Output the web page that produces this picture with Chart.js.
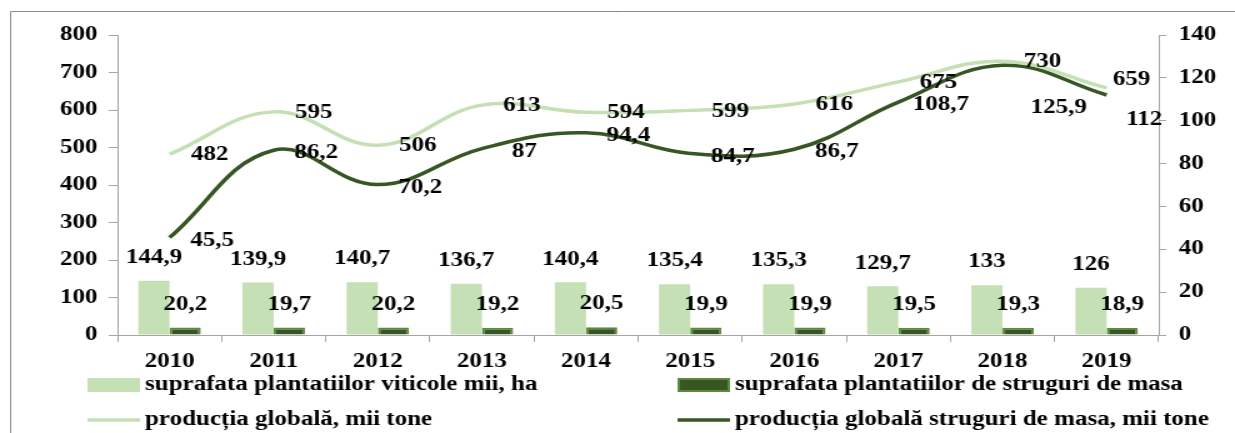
<!DOCTYPE html>
<html>
<head>
<meta charset="utf-8">
<script src="https://cdn.jsdelivr.net/npm/chart.js@4.4.1/dist/chart.umd.min.js"></script>
<style>
  html, body { margin: 0; padding: 0; background: #fff; overflow: hidden; }
  #wrap { width: 988px; height: 433px; transform: scaleX(1.25); transform-origin: 0 0; }
</style>
</head>
<body>
<div id="wrap"><canvas id="chart" width="988" height="433"></canvas></div>
<script>
var years = ['2010', '2011', '2012', '2013', '2014', '2015', '2016', '2017', '2018', '2019'];
var suprafataViticole = [144.9, 139.9, 140.7, 136.7, 140.4, 135.4, 135.3, 129.7, 133, 126];
var suprafataMasa = [20.2, 19.7, 20.2, 19.2, 20.5, 19.9, 19.9, 19.5, 19.3, 18.9];
var productiaGlobala = [482, 595, 506, 613, 594, 599, 616, 675, 730, 659];
var productiaMasa = [45.5, 86.2, 70.2, 87, 94.4, 84.7, 86.7, 108.7, 125.9, 112];
var leftTicks = [0, 800, 100];
var rightTicks = [0, 140, 20];

var FONT = 'bold 20px "Liberation Serif", "Times New Roman", serif';
var lightGreen = '#c5e0b4';
var darkGreen = '#375623';
var darkBorder = '#5b8a3d';
var axisGray = '#a6a6a6';

// where the value labels sit relative to their mark
var labelNudge = {
    0: { dx: 0, dy: -23 },
    1: { dx: 0, dy: -23 },
    2: { dx: 32, dy: 1, 9: { dx: 20, dy: -8 } },
    3: { dx: 34, dy: 3, 8: { dx: 45, dy: 43 }, 9: { dx: 30, dy: 25 } }
};

var valueLabels = {
    id: 'valueLabels',
    afterDatasetsDraw: function (chart) {
        var ctx = chart.ctx;
        ctx.save();
        ctx.font = FONT;
        ctx.fillStyle = '#000';
        ctx.textAlign = 'center';
        ctx.textBaseline = 'middle';
        chart.data.datasets.forEach(function (ds, di) {
            var meta = chart.getDatasetMeta(di);
            meta.data.forEach(function (el, i) {
                var n = labelNudge[di][i] || labelNudge[di];
                var txt = String(ds.data[i]).replace('.', ',');
                ctx.fillText(txt, el.x + n.dx, el.y + n.dy);
            });
        });
        ctx.restore();
    }
};

var frameAndLegend = {
    id: 'frameAndLegend',
    afterDraw: function (chart) {
        var ctx = chart.ctx;
        ctx.save();
        // outer frame
        ctx.strokeStyle = '#8c8c8c';
        ctx.lineWidth = 1;
        ctx.beginPath();
        ctx.moveTo(8.5, 433);
        ctx.lineTo(8.5, 11.5);
        ctx.lineTo(988, 11.5);
        ctx.stroke();

        // legend
        ctx.font = FONT;
        ctx.fillStyle = '#000';
        ctx.textAlign = 'left';
        ctx.textBaseline = 'middle';
        var items = chart.data.datasets;
        var cols = [70, 542];
        var rows = [385, 420];
        items.forEach(function (ds, i) {
            var x = cols[i % 2];
            var y = rows[Math.floor(i / 2)];
            if (ds.type === 'bar') {
                ctx.fillStyle = ds.backgroundColor;
                ctx.fillRect(x, y - 7, 42, 14);
                if (ds.borderWidth) {
                    ctx.strokeStyle = ds.borderColor;
                    ctx.lineWidth = ds.borderWidth;
                    ctx.strokeRect(x + 1, y - 6, 40, 12);
                }
            } else {
                ctx.strokeStyle = ds.borderColor;
                ctx.lineWidth = 3.5;
                ctx.beginPath();
                ctx.moveTo(x, y);
                ctx.lineTo(x + 42, y);
                ctx.stroke();
            }
            ctx.fillStyle = '#000';
            ctx.fillText(ds.label, x + 46, y);
        });
        ctx.restore();
    }
};

var ctx = document.getElementById('chart').getContext('2d');
var chart = new Chart(ctx, {
    data: {
        labels: years,
        datasets: [
            {
                type: 'bar',
                label: 'suprafata plantatiilor viticole mii, ha',
                data: suprafataViticole,
                backgroundColor: lightGreen,
                borderWidth: 0,
                yAxisID: 'y',
                order: 2
            },
            {
                type: 'bar',
                label: 'suprafata plantatiilor de struguri de masa',
                data: suprafataMasa,
                backgroundColor: darkGreen,
                borderColor: darkBorder,
                borderWidth: 2,
                yAxisID: 'y',
                order: 2
            },
            {
                type: 'line',
                label: 'producția globală, mii tone',
                data: productiaGlobala,
                borderColor: lightGreen,
                borderWidth: 3.5,
                tension: 0.4,
                pointRadius: 0,
                fill: false,
                yAxisID: 'y',
                order: 1
            },
            {
                type: 'line',
                label: 'producția globală struguri de masa, mii tone',
                data: productiaMasa,
                borderColor: darkGreen,
                borderWidth: 3.5,
                tension: 0.4,
                pointRadius: 0,
                fill: false,
                yAxisID: 'y1',
                order: 1
            }
        ]
    },
    options: {
        responsive: false,
        animation: false,
        devicePixelRatio: 1,
        layout: { padding: { top: 35, bottom: 58, left: 0, right: 0 } },
        plugins: {
            legend: { display: false },
            tooltip: { enabled: false }
        },
        datasets: {
            bar: { categoryPercentage: 0.6, barPercentage: 1.0 }
        },
        scales: {
            x: {
                offset: true,
                grid: { offset: true, drawOnChartArea: false, color: axisGray, tickLength: 7 },
                border: { color: axisGray },
                ticks: { color: '#000', font: { family: '"Liberation Serif"', size: 20, weight: 'bold' }, padding: 8, maxRotation: 0 },
                afterFit: function (s) { s.height = 40; }
            },
            y: {
                position: 'left',
                min: leftTicks[0],
                max: leftTicks[1],
                ticks: { stepSize: leftTicks[2], color: '#000', font: { family: '"Liberation Serif"', size: 20, weight: 'bold' }, padding: 9 },
                grid: { drawOnChartArea: false, color: axisGray, tickLength: 7 },
                border: { color: axisGray },
                afterFit: function (s) { s.width = 94; }
            },
            y1: {
                position: 'right',
                min: rightTicks[0],
                max: rightTicks[1],
                ticks: { stepSize: rightTicks[2], color: '#000', font: { family: '"Liberation Serif"', size: 20, weight: 'bold' }, padding: 10 },
                grid: { drawOnChartArea: false, color: axisGray, tickLength: 6 },
                border: { color: axisGray },
                afterFit: function (s) { s.width = 61; }
            }
        }
    },
    plugins: [valueLabels, frameAndLegend]
});
</script>
</body>
</html>
